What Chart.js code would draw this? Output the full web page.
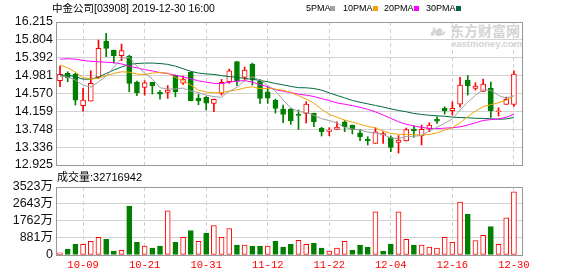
<!DOCTYPE html>
<html>
<head>
<meta charset="utf-8">
<script src="https://cdn.jsdelivr.net/npm/chart.js@4.4.1/dist/chart.umd.min.js"></script>
<style>
    html, body { margin: 0; padding: 0; background: #fff; }
    #wrap { position: relative; width: 578px; height: 276px; overflow: hidden;
            font-family: "Liberation Sans", "Noto Sans CJK SC", sans-serif; }
    canvas { position: absolute; left: 0; top: 0; }
    .t { position: absolute; white-space: nowrap; color: #000; line-height: 1; }
    .wm { position: absolute; white-space: nowrap; color: #d4d4d4; font-weight: bold; line-height: 1; }
    .sq { position: absolute; width: 5px; height: 5px; }
</style>
</head>
<body>
<div id="wrap">
    <div class="wm" style="left:428px;top:22px;font-size:20px;font-style:italic;">&#x2767;</div>
    <div class="wm" style="left:450px;top:24px;font-size:14px;">东方财富网</div>
    <div class="wm" style="left:451px;top:39px;font-size:9.5px;">eastmoney.com</div>

    <canvas id="kChart" width="578" height="276"></canvas>
    <canvas id="volChart" width="578" height="276"></canvas>

    <div class="t" style="left:52px;top:3px;font-size:10.5px;">中金公司[03908] 2019-12-30 16:00</div>
    <div id="legend"></div>
    <div class="t" id="volLabel" style="left:57px;top:172px;font-size:11px;"></div>
</div>

<script>
// 交易日
const dates = [
    '10-03', '10-04', '10-08', '10-09', '10-10', '10-11', '10-14', '10-15', '10-16', '10-17',
    '10-18', '10-21', '10-22', '10-23', '10-24', '10-25', '10-28', '10-29', '10-30', '10-31',
    '11-01', '11-04', '11-05', '11-06', '11-07', '11-08', '11-11', '11-12', '11-13', '11-14',
    '11-15', '11-18', '11-19', '11-20', '11-21', '11-22', '11-25', '11-26', '11-27', '11-28',
    '11-29', '12-02', '12-03', '12-04', '12-05', '12-06', '12-09', '12-10', '12-11', '12-12',
    '12-13', '12-16', '12-17', '12-18', '12-19', '12-20', '12-23', '12-24', '12-27', '12-30'
];
const tickDates = ['10-09', '10-21', '10-31', '11-12', '11-22', '12-04', '12-16', '12-30'];
const priceTicks = [12.925, 13.336, 13.748, 14.159, 14.570, 14.981, 15.392, 15.804, 16.215];
const volTicks = [0, 881, 1762, 2643, 3523];

// K线
const opens = [
    14.863, 15.033, 15.017, 14.288, 14.396, 14.948, 15.776, 15.569, 15.438, 15.431,
    14.833, 14.711, 14.826, 14.596, 14.592, 14.994, 14.810, 15.056, 14.465, 14.488,
    14.343, 14.573, 14.840, 15.304, 14.941, 15.247, 14.856, 14.610, 14.419, 14.212,
    14.212, 14.086, 14.109, 14.114, 13.769, 13.700, 13.746, 13.920, 13.845, 13.668,
    13.523, 13.424, 13.615, 13.557, 13.447, 13.477, 13.753, 13.592, 13.753, 13.976,
    14.228, 14.173, 14.327, 14.879, 14.688, 14.615, 14.688, 14.150, 14.320, 14.316
];
const highs = [
    15.201, 15.070, 15.040, 14.688, 15.093, 15.799, 15.953, 15.569, 15.707, 15.450,
    14.856, 14.863, 14.830, 14.638, 14.753, 14.994, 14.971, 15.060, 14.557, 14.500,
    14.440, 14.895, 15.132, 15.304, 15.178, 15.270, 14.895, 14.725, 14.440, 14.304,
    14.224, 14.189, 14.380, 14.120, 13.792, 13.782, 13.920, 13.950, 13.845, 13.746,
    13.576, 13.782, 13.691, 13.592, 13.603, 13.775, 13.828, 13.845, 13.897, 14.035,
    14.265, 14.380, 14.941, 14.982, 14.817, 14.902, 14.833, 14.242, 14.488, 15.093
];
const lows = [
    14.725, 14.840, 14.304, 14.166, 14.396, 14.918, 15.415, 15.270, 15.323, 14.610,
    14.518, 14.534, 14.557, 14.442, 14.458, 14.495, 14.780, 14.400, 14.311, 14.189,
    14.150, 14.534, 14.803, 14.753, 14.856, 14.764, 14.343, 14.343, 14.120, 13.897,
    13.861, 13.746, 13.891, 13.805, 13.592, 13.599, 13.746, 13.691, 13.638, 13.484,
    13.385, 13.424, 13.424, 13.231, 13.201, 13.477, 13.562, 13.385, 13.691, 13.884,
    14.097, 14.074, 14.258, 14.534, 14.649, 14.610, 14.022, 14.051, 14.320, 14.274
];
const closes = [
    15.010, 14.932, 14.419, 14.419, 14.803, 15.608, 15.608, 15.438, 15.557, 14.803,
    14.587, 14.817, 14.753, 14.557, 14.649, 14.610, 14.902, 14.403, 14.401, 14.350,
    14.435, 14.826, 15.093, 14.856, 15.109, 14.879, 14.454, 14.465, 14.228, 14.086,
    13.943, 14.068, 14.327, 13.920, 13.691, 13.730, 13.799, 13.805, 13.746, 13.576,
    13.484, 13.691, 13.650, 13.332, 13.500, 13.741, 13.707, 13.746, 13.845, 13.936,
    14.173, 14.228, 14.764, 14.748, 14.741, 14.787, 14.173, 14.173, 14.435, 15.017
];

// 均线
const ma5 = [
    14.970, 14.948, 14.879, 14.764, 14.717, 14.836, 14.971, 15.175, 15.380, 15.403,
    15.199, 15.040, 14.903, 14.703, 14.673, 14.677, 14.694, 14.624, 14.593, 14.533,
    14.498, 14.483, 14.621, 14.712, 14.864, 14.953, 14.878, 14.753, 14.627, 14.422,
    14.235, 14.158, 14.130, 14.069, 13.990, 13.947, 13.893, 13.789, 13.754, 13.731,
    13.682, 13.660, 13.629, 13.547, 13.531, 13.583, 13.586, 13.605, 13.708, 13.795,
    13.881, 13.986, 14.189, 14.370, 14.531, 14.654, 14.643, 14.524, 14.462, 14.517
];
const ma10 = [
    15.224, 15.160, 15.060, 14.940, 14.900, 14.920, 14.980, 15.030, 15.070, 15.060,
    15.017, 15.006, 15.039, 15.053, 15.038, 14.938, 14.867, 14.764, 14.648, 14.603,
    14.588, 14.589, 14.623, 14.653, 14.699, 14.725, 14.681, 14.687, 14.670, 14.643,
    14.594, 14.518, 14.442, 14.348, 14.206, 14.091, 14.026, 13.960, 13.912, 13.861,
    13.815, 13.777, 13.709, 13.650, 13.631, 13.632, 13.623, 13.617, 13.627, 13.663,
    13.732, 13.786, 13.897, 14.039, 14.163, 14.268, 14.314, 14.357, 14.416, 14.524
];
const ma20 = [
    15.360, 15.370, 15.360, 15.330, 15.310, 15.300, 15.290, 15.280, 15.250, 15.200,
    15.160, 15.120, 15.090, 15.050, 15.030, 14.990, 14.950, 14.910, 14.860, 14.831,
    14.803, 14.797, 14.831, 14.853, 14.868, 14.832, 14.774, 14.725, 14.659, 14.623,
    14.591, 14.553, 14.532, 14.500, 14.452, 14.408, 14.353, 14.323, 14.291, 14.252,
    14.204, 14.148, 14.075, 13.999, 13.919, 13.862, 13.824, 13.789, 13.769, 13.762,
    13.773, 13.781, 13.803, 13.845, 13.897, 13.950, 13.969, 13.987, 14.022, 14.094
];
const ma30 = [
    14.990, 14.990, 14.960, 14.900, 14.900, 14.950, 15.030, 15.110, 15.180, 15.240,
    15.260, 15.270, 15.270, 15.260, 15.240, 15.200, 15.140, 15.080, 15.040, 15.020,
    15.010, 14.980, 14.960, 14.940, 14.920, 14.900, 14.870, 14.840, 14.800, 14.769,
    14.733, 14.704, 14.701, 14.685, 14.647, 14.585, 14.525, 14.470, 14.410, 14.369,
    14.332, 14.295, 14.258, 14.217, 14.179, 14.150, 14.110, 14.088, 14.069, 14.056,
    14.047, 14.027, 14.016, 14.012, 14.000, 13.997, 13.988, 13.978, 13.985, 14.016
];

// 成交量（万股）及涨跌：1 = 收涨（红），0 = 收跌（绿）
const volumes = [
    117, 305, 559, 559, 711, 914, 812, 203, 237, 2539,
    660, 457, 355, 457, 2285, 660, 914, 1269, 711, 1117,
    1523, 914, 1371, 508, 508, 457, 457, 457, 711, 406,
    559, 762, 559, 609, 355, 203, 355, 711, 254, 508,
    406, 2234, 203, 559, 2234, 812, 508, 508, 406, 355,
    914, 660, 2742, 2117, 745, 1016, 1473, 559, 1930, 3271.6942
];
const volUp = [
    1, 0, 0, 1, 1, 1, 0, 0, 1, 0,
    0, 1, 0, 0, 1, 0, 1, 0, 1, 0,
    1, 1, 1, 0, 1, 0, 0, 1, 0, 0,
    0, 1, 1, 0, 0, 1, 1, 1, 0, 0,
    0, 1, 0, 0, 1, 1, 0, 1, 1, 1,
    1, 1, 1, 0, 1, 1, 0, 1, 1, 1
];
const lastVolume = 32716942;

document.addEventListener('DOMContentLoaded', () => {
    const RED = '#ff0000';
    const GREEN = '#008000';
    const GRID = '#d2d2d2';
    const FRAME = '#999999';
    const maSeries = [
        { name: '5PMA', data: ma5, color: '#a0a0a0' },
        { name: '10PMA', data: ma10, color: '#f5a200' },
        { name: '20PMA', data: ma20, color: '#ff00ff' },
        { name: '30PMA', data: ma30, color: '#006b3c' }
    ];

    // 图例
    const legend = document.getElementById('legend');
    const legendX = [306, 343, 384, 426];
    maSeries.forEach((s, k) => {
        const label = document.createElement('div');
        label.className = 't';
        label.style.cssText = `left:${legendX[k]}px;top:4px;font-size:9px;`;
        label.textContent = s.name;
        legend.appendChild(label);
        const sq = document.createElement('div');
        sq.className = 'sq';
        sq.style.cssText = `left:${legendX[k] + (k === 0 ? 24 : 30)}px;top:6px;background:${s.color};`;
        legend.appendChild(sq);
    });
    document.getElementById('volLabel').textContent = '成交量:' + lastVolume;

    const idx = dates.map((d, i) => i);
    const tickIdx = tickDates.map(d => dates.indexOf(d));
    const isUp = i => closes[i] >= opens[i];

    const framePlugin = {
        id: 'frame',
        afterDatasetsDraw(chart) {
            const { ctx, chartArea: a } = chart;
            const l = Math.round(a.left), t = Math.round(a.top);
            ctx.save();
            ctx.strokeStyle = FRAME;
            ctx.lineWidth = 1;
            ctx.strokeRect(l + 0.5, t + 0.5, Math.round(a.right) - l, Math.round(a.bottom) - t);
            ctx.restore();
        }
    };

    const xAxis = (extra) => Object.assign({
        type: 'linear',
        min: -0.52,
        max: 60.05,
        offset: false,
        afterBuildTicks: s => { s.ticks = tickIdx.map(v => ({ value: v })); },
        grid: { color: GRID, drawTicks: false, offset: false },
        border: { display: false, dash: [4, 3] }
    }, extra);

    const tickFont = { family: '"Liberation Sans", "Noto Sans CJK SC"', size: 12.5 };
    const common = {
        responsive: false,
        animation: false,
        events: [],
        plugins: { legend: { display: false }, tooltip: { enabled: false } }
    };

    // 1. K线图
    new Chart(document.getElementById('kChart'), {
        type: 'bar',
        data: {
            datasets: [
                ...maSeries.map(s => ({
                    type: 'line',
                    data: idx.map(i => ({ x: i, y: s.data[i] })),
                    borderColor: s.color,
                    borderWidth: 1,
                    pointRadius: 0,
                    tension: 0,
                    order: 0
                })),
                {
                    // 实体
                    data: idx.map(i => ({ x: i, y: [opens[i], closes[i]] })),
                    backgroundColor: idx.map(i => isUp(i) ? '#ffffff' : GREEN),
                    borderColor: idx.map(i => isUp(i) ? RED : GREEN),
                    borderWidth: 1,
                    borderSkipped: false,
                    barThickness: 5,
                    minBarLength: 1,
                    grouped: false,
                    order: 1
                },
                {
                    // 影线
                    data: idx.map(i => ({ x: i, y: [lows[i], highs[i]] })),
                    backgroundColor: idx.map(i => isUp(i) ? RED : GREEN),
                    barThickness: 1,
                    grouped: false,
                    order: 2
                }
            ]
        },
        options: {
            ...common,
            layout: { padding: { left: 0, top: 22, right: 56, bottom: 111 } },
            scales: {
                x: xAxis({
                    ticks: { display: false },
                    afterFit: s => { s.height = 0; }
                }),
                y: {
                    min: priceTicks[0],
                    max: priceTicks[priceTicks.length - 1],
                    afterBuildTicks: s => { s.ticks = priceTicks.map(v => ({ value: v })); },
                    afterFit: s => { s.width = 56; },
                    grid: { color: GRID, drawTicks: false },
                    border: { display: false },
                    ticks: {
                        autoSkip: false,
                        padding: 3,
                        color: '#111',
                        font: tickFont,
                        callback: v => v.toFixed(3)
                    }
                }
            }
        },
        plugins: [framePlugin]
    });

    // 2. 成交量
    new Chart(document.getElementById('volChart'), {
        type: 'bar',
        data: {
            datasets: [{
                data: idx.map(i => ({ x: i, y: volumes[i] })),
                backgroundColor: idx.map(i => volUp[i] ? '#ffffff' : GREEN),
                borderColor: idx.map(i => volUp[i] ? RED : GREEN),
                borderWidth: 1,
                borderSkipped: false,
                barThickness: 5,
                grouped: false
            }]
        },
        options: {
            ...common,
            layout: { padding: { left: 0, top: 187, right: 56, bottom: 0 } },
            scales: {
                x: xAxis({
                    afterFit: s => { s.height = 21; },
                    ticks: {
                        autoSkip: false,
                        maxRotation: 0,
                        padding: 4,
                        color: RED,
                        font: { family: '"Liberation Mono"', size: 10.5 },
                        callback: v => dates[v]
                    }
                }),
                y: {
                    min: 0,
                    max: volTicks[volTicks.length - 1],
                    afterBuildTicks: s => { s.ticks = volTicks.map(v => ({ value: v })); },
                    afterFit: s => { s.width = 56; },
                    grid: { color: GRID, drawTicks: false },
                    border: { display: false },
                    ticks: {
                        autoSkip: false,
                        padding: 3,
                        color: '#111',
                        font: tickFont,
                        callback: v => v === 0 ? '0' : v + '万'
                    }
                }
            }
        },
        plugins: [framePlugin]
    });
});
</script>
</body>
</html>
